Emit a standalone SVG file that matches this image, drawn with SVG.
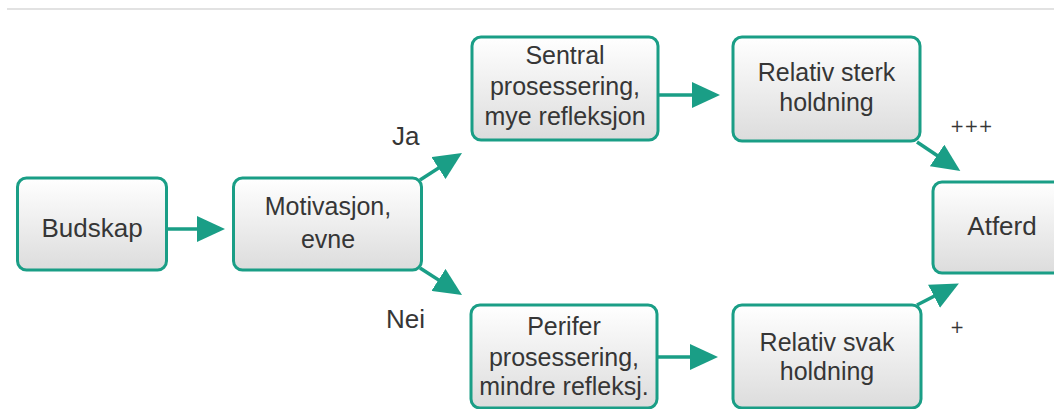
<svg xmlns="http://www.w3.org/2000/svg" width="1054" height="409" viewBox="0 0 1054 409">
<style>
.box{fill:url(#g);stroke:#1a9e86;stroke-width:3}
.t{font-family:"Liberation Sans",Arial,sans-serif;font-size:25px;fill:#363636;text-anchor:middle}
.l{font-family:"Liberation Sans",Arial,sans-serif;font-size:26px;fill:#363636}
.p{font-family:"DejaVu Sans",sans-serif;font-size:17px;fill:#363636}
.c{fill:none;stroke:#1a9e86;stroke-width:3.5;marker-end:url(#a)}
</style>
<defs>
<linearGradient id="g" x1="0" y1="0" x2="0" y2="1">
<stop offset="0" stop-color="#ffffff"/>
<stop offset="1" stop-color="#dcdcdc"/>
</linearGradient>
<marker id="a" markerUnits="userSpaceOnUse" markerWidth="28" markerHeight="26" refX="18" refY="13" orient="auto">
<path d="M0,0 L28,13 L0,26 z" fill="#1a9e86"/>
</marker>
</defs>
<rect width="1054" height="409" fill="#ffffff"/>
<line x1="7" y1="9" x2="1054" y2="9" stroke="#d9d9d9" stroke-width="1.5"/>
<g id="connectors">
<path class="c" d="M167,229 L215,229"/>
<path class="c" d="M420,180 L453.6,158.4"/>
<path class="c" d="M420,268 L453.6,289.6"/>
<path class="c" d="M658,95 L710,95"/>
<path class="c" d="M657,357 L708,357"/>
<path class="c" d="M917,142 L952,165.5"/>
<path class="c" d="M917,305 L950,288"/>
</g>
<g id="budskap"><rect class="box" x="17.5" y="178" width="149" height="92" rx="9"/><text class="t" x="92" y="237" style="font-size:26px">Budskap</text></g>
<g id="motivasjon"><rect class="box" x="233.5" y="178" width="188" height="92" rx="9"/><text class="t" x="328" y="215">Motivasjon,</text><text class="t" x="328" y="248">evne</text></g>
<g id="sentral"><rect class="box" x="472" y="37" width="186" height="103" rx="9"/><text class="t" x="565" y="64">Sentral</text><text class="t" x="565" y="95">prosessering,</text><text class="t" x="565" y="125">mye refleksjon</text></g>
<g id="perifer"><rect class="box" x="471" y="305" width="186" height="103" rx="9"/><text class="t" x="564" y="335">Perifer</text><text class="t" x="564" y="366">prosessering,</text><text class="t" x="564" y="395">mindre refleksj.</text></g>
<g id="sterk"><rect class="box" x="733" y="37" width="187" height="104" rx="9"/><text class="t" x="826.5" y="81">Relativ sterk</text><text class="t" x="826.5" y="111">holdning</text></g>
<g id="svak"><rect class="box" x="733" y="305" width="188" height="103" rx="9"/><text class="t" x="827" y="351">Relativ svak</text><text class="t" x="827" y="380">holdning</text></g>
<g id="atferd"><rect class="box" x="933" y="182" width="130" height="91" rx="9"/><text class="t" x="1002" y="235" style="font-size:26px">Atferd</text></g>
<g id="labels">
<text class="l" x="392" y="145">Ja</text>
<text class="l" x="386" y="328">Nei</text>
<text class="p" x="950" y="132">+++</text>
<text class="p" x="950" y="333">+</text>
</g>
</svg>
